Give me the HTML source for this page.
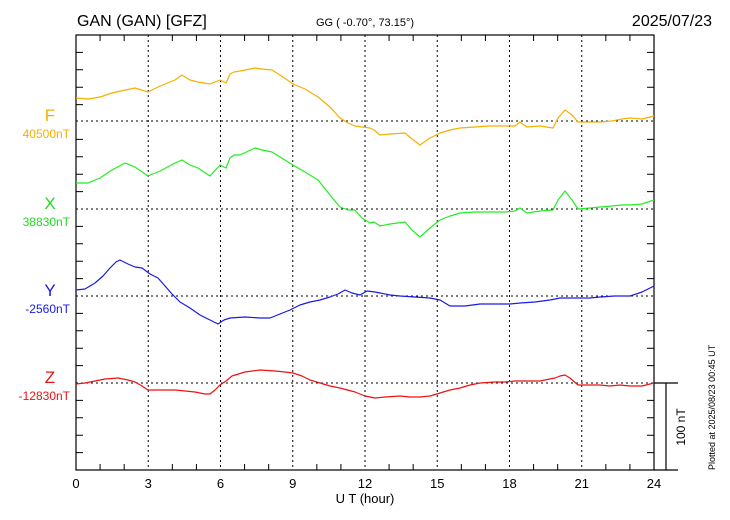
<!DOCTYPE html>
<html><head><meta charset="utf-8"><style>
html,body{margin:0;padding:0;background:#fff;}
svg{display:block;font-family:"Liberation Sans",Arial,sans-serif;}
</style></head><body>
<svg width="730" height="520" viewBox="0 0 730 520" xmlns="http://www.w3.org/2000/svg">
<rect width="730" height="520" fill="#fff"/>
<text x="77" y="26" font-size="16">GAN (GAN)  [GFZ]</text>
<text x="365" y="26" font-size="11" text-anchor="middle">GG ( -0.70°,  73.15°)</text>
<text x="712" y="26" font-size="16" text-anchor="end">2025/07/23</text>
<g stroke="#000" stroke-width="1" stroke-dasharray="2,3">
<line x1="148.25" y1="35" x2="148.25" y2="470"/><line x1="220.5" y1="35" x2="220.5" y2="470"/>
<line x1="292.75" y1="35" x2="292.75" y2="470"/><line x1="365" y1="35" x2="365" y2="470"/>
<line x1="437.25" y1="35" x2="437.25" y2="470"/><line x1="509.5" y1="35" x2="509.5" y2="470"/>
<line x1="581.75" y1="35" x2="581.75" y2="470"/>
<line x1="76" y1="121" x2="654" y2="121"/><line x1="76" y1="209" x2="654" y2="209"/>
<line x1="76" y1="296" x2="654" y2="296"/><line x1="76" y1="383" x2="654" y2="383"/>
</g>
<g stroke="#000" stroke-width="1">
<path d="M100.08 35v6M124.17 35v6M172.33 35v6M196.42 35v6M244.58 35v6M268.67 35v6M316.83 35v6M340.92 35v6M389.08 35v6M413.17 35v6M461.33 35v6M485.42 35v6M533.58 35v6M557.67 35v6M605.83 35v6M629.92 35v6"/>
<path d="M100.08 470v-6M124.17 470v-6M172.33 470v-6M196.42 470v-6M244.58 470v-6M268.67 470v-6M316.83 470v-6M340.92 470v-6M389.08 470v-6M413.17 470v-6M461.33 470v-6M485.42 470v-6M533.58 470v-6M557.67 470v-6M605.83 470v-6M629.92 470v-6"/>
<path d="M76 52.4h7M76 69.8h7M76 87.2h7M76 104.6h7M76 139.4h7M76 156.8h7M76 174.2h7M76 191.6h7M76 226.4h7M76 243.8h7M76 261.2h7M76 278.6h7M76 313.4h7M76 330.8h7M76 348.2h7M76 365.6h7M76 400.4h7M76 417.8h7M76 435.2h7M76 452.6h7"/>
<path d="M654 52.4h-7M654 69.8h-7M654 87.2h-7M654 104.6h-7M654 139.4h-7M654 156.8h-7M654 174.2h-7M654 191.6h-7M654 226.4h-7M654 243.8h-7M654 261.2h-7M654 278.6h-7M654 313.4h-7M654 330.8h-7M654 348.2h-7M654 365.6h-7M654 400.4h-7M654 417.8h-7M654 435.2h-7M654 452.6h-7"/>
</g>
<rect x="76" y="35" width="578" height="435" fill="none" stroke="#000" stroke-width="1.2"/>
<g fill="none" stroke-width="1.2" stroke-linejoin="round">
<polyline stroke="#f5b000" points="76,98 88,99 100,97 112,93 125,90 135,88 148,92 160,86 175,80 182,75 190,80 198,82 210,84 220,80 226,83 230,74 234,72 240,71 255,68 262,69 272,70 280,75 293,84 305,89 318,97 330,107 340,118 348,123 355,126 362,127 370,128 374,130 380,135 390,134 405,133 412,139 420,145 430,138 440,133 450,130 460,128 475,127 490,126 505,126 515,126 520,122 527,127 540,126 553,128 558,118 565,110 572,115 578,122 590,122 600,122 612,121 622,119 630,118 642,119 654,116"/>
<polyline stroke="#22ee22" points="76,183 88,183 100,178 112,170 125,163 135,167 148,176 160,171 175,163 182,160 190,165 198,168 210,176 220,165 226,168 230,158 234,155 240,155 255,148 262,150 272,152 280,157 293,165 305,172 318,180 330,195 340,207 348,210 355,210 362,218 370,223 374,222 380,226 390,224 405,222 412,230 420,237 430,228 440,220 450,216 460,213 475,212 490,212 505,212 515,211 520,208 527,213 540,211 553,210 558,200 565,191 572,200 578,209 590,208 600,207 612,206 622,205 630,205 642,204 654,200"/>
<polyline stroke="#1a1ae6" points="76,290 85,289 95,283 103,276 110,268 116,262 120,260 128,264 135,267 142,268 150,274 158,278 165,286 172,294 180,302 190,308 200,315 210,320 218,324 224,320 230,318 245,317 260,318 270,318 280,314 290,310 300,305 310,302 320,300 330,297 338,294 345,290 352,293 360,295 367,291 375,292 380,293 390,295 400,296 415,297 430,298 440,300 450,306 465,306 480,304 495,304 510,304 520,303 535,302 550,300 560,298 575,298 590,298 600,297 615,296 630,296 642,292 654,286"/>
<polyline stroke="#ee1111" points="76,384 85,383 95,381 105,379 118,378 128,380 135,382 142,386 148,390 160,390 175,390 185,391 195,392 205,394 210,394 215,390 220,385 226,381 232,376 245,372 260,370 275,371 285,372 293,373 302,376 310,380 320,383 330,386 340,388 355,392 365,396 375,398 385,397 400,396 410,397 420,397 430,396 440,393 450,390 460,388 470,385 480,383 495,382 505,382 515,381 525,381 540,381 555,378 560,376 565,375 570,378 578,385 590,385 600,385 610,386 620,385 630,386 642,386 654,383"/>
</g>
<g font-size="17">
<text x="50" y="121" fill="#f5b000" text-anchor="middle">F</text>
<text x="50" y="209" fill="#22dd22" text-anchor="middle">X</text>
<text x="50" y="296" fill="#1a1ae6" text-anchor="middle">Y</text>
<text x="50" y="383" fill="#ee1111" text-anchor="middle">Z</text>
</g>
<g font-size="12" text-anchor="end">
<text x="70" y="138" fill="#f5b000">40500nT</text>
<text x="70" y="226" fill="#22dd22">38830nT</text>
<text x="70" y="313" fill="#1a1ae6">-2560nT</text>
<text x="70" y="400" fill="#ee1111">-12830nT</text>
</g>
<g font-size="13" text-anchor="middle">
<text x="76" y="488">0</text><text x="148.25" y="488">3</text><text x="220.5" y="488">6</text>
<text x="292.75" y="488">9</text><text x="365" y="488">12</text><text x="437.25" y="488">15</text>
<text x="509.5" y="488">18</text><text x="581.75" y="488">21</text><text x="654" y="488">24</text>
</g>
<text x="365" y="503" font-size="13" text-anchor="middle">U T (hour)</text>
<g stroke="#000" stroke-width="1.2">
<line x1="654" y1="383" x2="678" y2="383"/><line x1="654" y1="470" x2="678" y2="470"/>
<line x1="666" y1="383" x2="666" y2="470"/>
</g>
<text transform="translate(685,427) rotate(-90)" font-size="12" text-anchor="middle">100 nT</text>
<text transform="translate(715,470) rotate(-90)" font-size="9">Plotted at 2025/08/23 00:45 UT</text>
</svg>
</body></html>
